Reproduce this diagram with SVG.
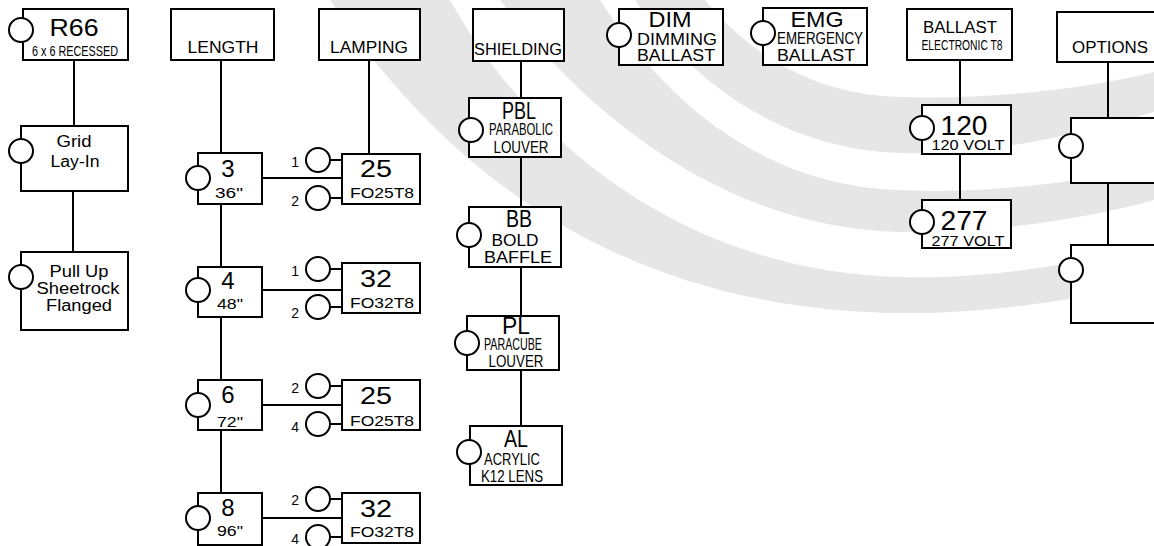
<svg xmlns="http://www.w3.org/2000/svg" width="1154" height="546" viewBox="0 0 1154 546">
<style>
.band{fill:#e6e6e6}
.b{fill:#fff;stroke:#000;stroke-width:2}
.ln{stroke:#000;stroke-width:2;fill:none}
text{font-family:"Liberation Sans",Arial,sans-serif;fill:#000;text-anchor:middle}
.big{font-size:24px}
.mid{font-size:16px}
.sm{font-size:14px}
.cn{font-size:15px}
.lab{font-size:14px;text-anchor:end}
</style>
<rect width="1154" height="546" fill="#fff"/>
<g id="background">
<path class="band" d="M330,0 C430,150 600,310 900,313 C1000,314 1100,295 1154,282 L1154,245 C1100,258 1000,280 900,277 C700,272 540,160 450,0 Z"/>
<path class="band" d="M500,0 C590,120 730,228 900,232 C1000,234 1100,215 1154,200 L1154,165 C1100,178 1000,195 900,190 C770,186 670,110 600,0 Z"/>
<path class="band" d="M635,0 C705,100 800,150 900,153 C1000,156 1100,128 1154,112 L1154,72 C1100,86 1000,100 900,97 C820,95 755,60 705,0 Z"/>
</g>
<g id="connectors" class="ln">
<path d="M74,60 V126 M73,191 V252"/>
<path d="M221,60 V153 M221,204 V267 M221,317 V380 M221,430 V493"/>
<path d="M369,60 V154"/>
<path d="M262,178 H342 M262,290 H342 M262,405 H342 M262,518 H342"/>
<path d="M330,160 H342 M330,198 H342 M330,269 H342 M330,307 H342 M330,386 H342 M330,424 H342 M330,499 H342 M330,537 H342"/>
<path d="M521,61 V98 M521,157 V207 M521,267 V316 M521,370 V426"/>
<path d="M960,60 V105 M960,154 V200"/>
<path d="M1108,62 V118 M1108,183 V245"/>
</g>
<g id="n-r66"><rect class="b" x="23" y="9" width="105" height="51"/><circle class="b" cx="21" cy="30" r="12"/><text class="big" x="74" y="36" font-size="26" textLength="49" lengthAdjust="spacingAndGlyphs">R66</text><text class="cn" x="75" y="56" textLength="86" lengthAdjust="spacingAndGlyphs">6 x 6 RECESSED</text></g>
<g id="n-grid"><rect class="b" x="21" y="126" width="107" height="65"/><circle class="b" cx="21" cy="151" r="12"/><text class="mid" x="74" y="147" textLength="35" lengthAdjust="spacingAndGlyphs">Grid</text><text class="mid" x="75" y="167" textLength="49" lengthAdjust="spacingAndGlyphs">Lay-In</text></g>
<g id="n-pullup"><rect class="b" x="21" y="252" width="107" height="78"/><circle class="b" cx="21" cy="277" r="12"/><text class="mid" x="79" y="277" textLength="59" lengthAdjust="spacingAndGlyphs">Pull Up</text><text class="mid" x="78" y="294" textLength="83" lengthAdjust="spacingAndGlyphs">Sheetrock</text><text class="mid" x="79" y="311" textLength="66" lengthAdjust="spacingAndGlyphs">Flanged</text></g>
<g id="n-length"><rect class="b" x="171" y="9" width="103" height="51"/><text class="mid" x="223" y="53" textLength="71" lengthAdjust="spacingAndGlyphs">LENGTH</text></g>
<g id="n-lamping"><rect class="b" x="319" y="9" width="101" height="51"/><text class="mid" x="369" y="53" textLength="78" lengthAdjust="spacingAndGlyphs">LAMPING</text></g>
<g id="n-len3"><rect class="b" x="198" y="153" width="64" height="51"/><circle class="b" cx="198" cy="178" r="12"/><text class="big" x="228" y="177">3</text><text class="sm" x="229" y="198" textLength="28" lengthAdjust="spacingAndGlyphs">36"</text></g>
<g id="n-len4"><rect class="b" x="198" y="267" width="64" height="50"/><circle class="b" cx="198" cy="290" r="12"/><text class="big" x="228" y="289">4</text><text class="sm" x="230" y="309" textLength="26" lengthAdjust="spacingAndGlyphs">48"</text></g>
<g id="n-len6"><rect class="b" x="198" y="380" width="64" height="50"/><circle class="b" cx="198" cy="405" r="12"/><text class="big" x="228" y="403">6</text><text class="sm" x="230" y="427" textLength="26" lengthAdjust="spacingAndGlyphs">72"</text></g>
<g id="n-len8"><rect class="b" x="198" y="493" width="64" height="52"/><circle class="b" cx="198" cy="518" r="12"/><text class="big" x="228" y="516">8</text><text class="sm" x="230" y="536" textLength="26" lengthAdjust="spacingAndGlyphs">96"</text></g>
<g id="n-lamp1"><rect class="b" x="342" y="154" width="78" height="50"/><circle class="b" cx="318" cy="160" r="12"/><circle class="b" cx="318" cy="198" r="12"/><text class="lab" x="299" y="167">1</text><text class="lab" x="299" y="206">2</text><text class="big" x="376" y="177" textLength="32" lengthAdjust="spacingAndGlyphs">25</text><text class="sm" x="382" y="198" textLength="64" lengthAdjust="spacingAndGlyphs">FO25T8</text></g>
<g id="n-lamp2"><rect class="b" x="342" y="263" width="78" height="50"/><circle class="b" cx="318" cy="269" r="12"/><circle class="b" cx="318" cy="307" r="12"/><text class="lab" x="299" y="276">1</text><text class="lab" x="299" y="318">2</text><text class="big" x="376" y="287" textLength="32" lengthAdjust="spacingAndGlyphs">32</text><text class="sm" x="382" y="308" textLength="64" lengthAdjust="spacingAndGlyphs">FO32T8</text></g>
<g id="n-lamp3"><rect class="b" x="342" y="380" width="78" height="50"/><circle class="b" cx="318" cy="386" r="12"/><circle class="b" cx="318" cy="424" r="12"/><text class="lab" x="299" y="393">2</text><text class="lab" x="299" y="432">4</text><text class="big" x="376" y="404" textLength="32" lengthAdjust="spacingAndGlyphs">25</text><text class="sm" x="382" y="426" textLength="64" lengthAdjust="spacingAndGlyphs">FO25T8</text></g>
<g id="n-lamp4"><rect class="b" x="342" y="493" width="78" height="50"/><circle class="b" cx="318" cy="499" r="12"/><circle class="b" cx="318" cy="537" r="12"/><text class="lab" x="299" y="505">2</text><text class="lab" x="299" y="544">4</text><text class="big" x="376" y="517" textLength="32" lengthAdjust="spacingAndGlyphs">32</text><text class="sm" x="382" y="537" textLength="64" lengthAdjust="spacingAndGlyphs">FO32T8</text></g>
<g id="n-shielding"><rect class="b" x="473" y="9" width="91" height="52"/><text class="mid" x="518" y="55" textLength="88" lengthAdjust="spacingAndGlyphs">SHIELDING</text></g>
<g id="n-pbl"><rect class="b" x="469" y="98" width="92" height="59"/><circle class="b" cx="471" cy="130" r="12"/><text class="big" x="519" y="119" textLength="34" lengthAdjust="spacingAndGlyphs">PBL</text><text x="521" y="135" font-size="16" textLength="64" lengthAdjust="spacingAndGlyphs">PARABOLIC</text><text x="521" y="153" font-size="17" textLength="55" lengthAdjust="spacingAndGlyphs">LOUVER</text></g>
<g id="n-bb"><rect class="b" x="469" y="207" width="92" height="60"/><circle class="b" cx="469" cy="235" r="12"/><text class="big" x="519" y="227" textLength="26" lengthAdjust="spacingAndGlyphs">BB</text><text x="515" y="246" font-size="17" textLength="47" lengthAdjust="spacingAndGlyphs">BOLD</text><text x="518" y="263" font-size="17" textLength="68" lengthAdjust="spacingAndGlyphs">BAFFLE</text></g>
<g id="n-pl"><rect class="b" x="467" y="316" width="92" height="54"/><circle class="b" cx="467" cy="343" r="12"/><text class="big" x="516" y="334" textLength="28" lengthAdjust="spacingAndGlyphs">PL</text><text x="513" y="350" font-size="16" textLength="58" lengthAdjust="spacingAndGlyphs">PARACUBE</text><text x="516" y="367" font-size="17" textLength="55" lengthAdjust="spacingAndGlyphs">LOUVER</text></g>
<g id="n-al"><rect class="b" x="470" y="426" width="92" height="59"/><circle class="b" cx="469" cy="452" r="12"/><text class="big" x="516" y="447" textLength="24" lengthAdjust="spacingAndGlyphs">AL</text><text x="512" y="465" font-size="17" textLength="56" lengthAdjust="spacingAndGlyphs">ACRYLIC</text><text x="512" y="482" font-size="17" textLength="62" lengthAdjust="spacingAndGlyphs">K12 LENS</text></g>
<g id="n-dim"><rect class="b" x="619" y="9" width="104" height="56"/><circle class="b" cx="619" cy="35" r="12"/><text x="670" y="27" font-size="22" textLength="43" lengthAdjust="spacingAndGlyphs">DIM</text><text x="677" y="45" font-size="17" textLength="80" lengthAdjust="spacingAndGlyphs">DIMMING</text><text x="676" y="61" font-size="17" textLength="78" lengthAdjust="spacingAndGlyphs">BALLAST</text></g>
<g id="n-emg"><rect class="b" x="763" y="8" width="104" height="57"/><circle class="b" cx="763" cy="33" r="12"/><text x="817" y="27" font-size="22" textLength="53" lengthAdjust="spacingAndGlyphs">EMG</text><text x="820" y="44" font-size="16" textLength="86" lengthAdjust="spacingAndGlyphs">EMERGENCY</text><text x="816" y="61" font-size="17" textLength="78" lengthAdjust="spacingAndGlyphs">BALLAST</text></g>
<g id="n-ballast"><rect class="b" x="907" y="9" width="105" height="51"/><text class="mid" x="960" y="33" textLength="74" lengthAdjust="spacingAndGlyphs">BALLAST</text><text x="962" y="50" font-size="14" textLength="81" lengthAdjust="spacingAndGlyphs">ELECTRONIC T8</text></g>
<g id="n-120"><rect class="b" x="922" y="105" width="89" height="49"/><circle class="b" cx="922" cy="128" r="12"/><text x="964" y="135" font-size="27" textLength="47" lengthAdjust="spacingAndGlyphs">120</text><text class="cn" x="968" y="150" textLength="73" lengthAdjust="spacingAndGlyphs">120 VOLT</text></g>
<g id="n-277"><rect class="b" x="922" y="200" width="89" height="48"/><circle class="b" cx="922" cy="222" r="12"/><text x="964" y="230" font-size="27" textLength="47" lengthAdjust="spacingAndGlyphs">277</text><text class="cn" x="968" y="246" textLength="73" lengthAdjust="spacingAndGlyphs">277 VOLT</text></g>
<g id="n-options"><rect class="b" x="1057" y="12" width="110" height="50"/><text class="mid" x="1110" y="53" textLength="76" lengthAdjust="spacingAndGlyphs">OPTIONS</text></g>
<g id="n-opt1"><rect class="b" x="1071" y="118" width="100" height="65"/><circle class="b" cx="1071" cy="146" r="12"/></g>
<g id="n-opt2"><rect class="b" x="1071" y="245" width="100" height="78"/><circle class="b" cx="1071" cy="270" r="12"/></g>
</svg>
